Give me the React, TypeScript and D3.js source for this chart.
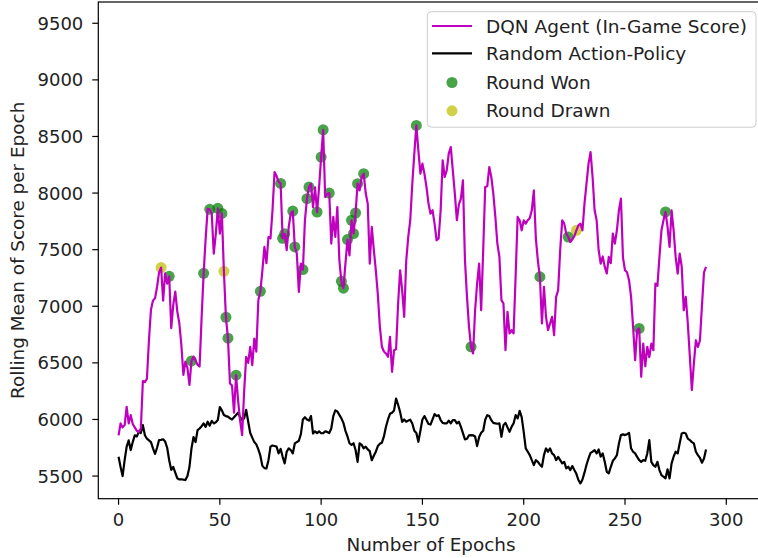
import React from "react";
import * as d3 from "d3";

// Rolling mean of the in-game score per epoch for the DQN agent (epochs 0..290)
const agentScore: number[] = [
  5860, 5965, 5930, 5950, 6112, 5965, 6038, 5960, 5930, 5900,
  5890, 5920, 6340, 6330, 6360, 6700, 6970, 7050, 7070, 7170,
  7300, 7342, 7050, 7290, 7200, 7265, 6806, 7012, 7130, 6953,
  6850, 6660, 6394, 6512, 6453, 6306, 6517, 6556, 6520, 6482,
  6468, 6900, 7291, 7600, 7862, 7856, 7818, 7465, 7640, 7865,
  7641, 7820, 7309, 6903, 6718, 6318, 6300, 6060, 6391, 6171,
  5990, 5862, 6250, 6554, 6500, 6642, 6480, 6715, 6600, 7054,
  7132, 7318, 7524, 7380, 7612, 7600, 7848, 8186, 8150, 8098,
  8085, 7600, 7640, 7495, 7700, 7818, 7841, 7524, 7465, 7127,
  7377, 7324, 7760, 7950, 8053, 8082, 7876, 8050, 7832, 8054,
  8318, 8559, 7965, 7990, 8000, 7554, 7789, 7612, 7877, 7407,
  7220, 7160, 7377, 7589, 7450, 7760, 7642, 7824, 8083, 8024,
  8142, 8171, 8000, 7907, 7377, 7701, 7500, 7318, 7100, 6818,
  6642, 6600, 6583, 6554, 6730, 6421, 6612, 6620, 7024, 7318,
  7142, 6907, 7400, 7612, 7760, 8083, 8348, 8598, 8377, 8171,
  8260, 8171, 8054, 7907, 7818, 7848, 7730, 7583, 7600, 7848,
  8289, 8142, 8200, 8348, 8406, 8201, 7995, 7760, 7900, 7950,
  8112, 7407, 7083, 6818, 6642, 6583, 6965, 7201, 7377, 6965,
  7495, 8054, 8060, 8230, 8142, 7995, 7789, 7554, 7436, 7054,
  7024, 6612, 6950, 6760, 6789, 6760, 7260, 7789, 7760, 7671,
  7760, 7730, 7760, 7780, 7848, 8024, 7600, 7400, 7260, 6848,
  7171, 6907, 6789, 6848, 6907, 6745, 7083, 7142, 7495, 7760,
  7730, 7642, 7612, 7568, 7590, 7620, 7671, 7715, 7730, 7671,
  7907, 8083, 8260, 8362, 8142, 7848, 7760, 7495, 7377, 7440,
  7350, 7289, 7436, 7380, 7642, 7554, 7671, 7848, 7951, 7430,
  7318, 7300, 7230, 7083, 6818, 6524, 6789, 6804, 6377, 6671,
  6470, 6642, 6550, 6670, 6612, 7201, 7180, 7436, 7671, 7760,
  7833, 7701, 7524, 7848, 7671, 7436, 7289, 7465, 7350, 6965,
  7083, 6850, 6560, 6260, 6495, 6700, 6640, 6700, 7010, 7300, 7348,
];

// Rolling mean of the score per epoch for the random action-policy baseline
const randomScore: number[] = [
  5670, 5580, 5500, 5640, 5760, 5815, 5730, 5800, 5860, 5850,
  5890, 5880, 5950, 5860, 5830, 5815, 5800, 5745, 5695, 5750,
  5818, 5820, 5825, 5805, 5750, 5640, 5555, 5580, 5530, 5480,
  5470, 5472, 5468, 5465, 5500, 5580, 5745, 5845, 5800, 5905,
  5920, 5940, 5965, 5935, 5980, 5945, 5988, 5965, 5975, 5995,
  6110, 6080, 6040, 6030, 6025, 6010, 6000, 6020, 6040, 6060,
  6020, 5995, 6010, 6085, 5980, 5880, 5840, 5800, 5780, 5735,
  5680, 5590, 5570, 5568, 5640, 5760, 5770, 5765, 5760, 5700,
  5740, 5670, 5612, 5715, 5745, 5730, 5700, 5788, 5800, 5812,
  5870, 6000, 6020, 6000, 5990, 6030, 5876, 5895, 5880, 5895,
  5878, 5880, 5895, 5890, 5880, 5920, 6030, 6080, 6070, 6040,
  6010, 5970, 5900, 5850, 5790, 5775, 5790, 5730, 5626, 5790,
  5775, 5745, 5760, 5735, 5720, 5640, 5680, 5715, 5765, 5785,
  5795, 5850, 5935, 6000, 6050, 6060, 6080, 6185, 6130, 6065,
  5979, 6000, 5980, 5990, 5998, 5965, 5900, 5880, 5803, 5900,
  6000, 6030, 5995, 5960, 5955, 6000, 6047, 6030, 6038, 5995,
  5970, 5965, 5965, 5990, 5965, 5994, 5994, 5965, 5980, 5935,
  5880, 5824, 5830, 5860, 5862, 5860, 5850, 5765, 5845, 5882,
  5900, 5998, 6038, 6030, 5994, 5970, 5965, 5962, 5965, 5847,
  5950, 5970, 5930, 5891, 5935, 5965, 6038, 6009, 6076, 6020,
  5891, 5744, 5715, 5685, 5641, 5597, 5640, 5626, 5600, 5582,
  5685, 5744, 5715, 5744, 5700, 5685, 5641, 5670, 5641, 5612,
  5625, 5568, 5582, 5553, 5588, 5553, 5520, 5465, 5435, 5470,
  5530, 5600, 5656, 5705, 5715, 5729, 5700, 5735, 5671, 5700,
  5626, 5538, 5524, 5582, 5635, 5656, 5685, 5788, 5862, 5868,
  5862, 5870, 5882, 5744, 5715, 5700, 5670, 5641, 5626, 5641,
  5635, 5700, 5818, 5626, 5597, 5582, 5626, 5553, 5509, 5494,
  5480, 5560, 5479, 5612, 5671, 5715, 5700, 5790, 5876, 5882,
  5876, 5830, 5818, 5800, 5788, 5715, 5685, 5660, 5618, 5655, 5735,
];

// Epochs at which the agent won or drew the round
const wonEpochs: number[] = [
  25, 36, 42, 45, 49, 51, 53, 54, 58, 70, 80, 81, 82, 86, 87, 91, 93, 94,
  98, 100, 101, 104, 110, 111, 113, 115, 116, 117, 118, 121, 147, 174, 208,
  222, 257, 270,
];
const drawnEpochs: number[] = [21, 52, 226];

const xTicks: number[] = [0, 50, 100, 150, 200, 250, 300];
const yTicks: number[] = [5500, 6000, 6500, 7000, 7500, 8000, 8500, 9000, 9500];

const legendLabels: string[] = [
  "DQN Agent (In-Game Score)",
  "Random Action-Policy",
  "Round Won",
  "Round Drawn",
];

const W = 758;
const H = 558;
const FONT = "DejaVu Sans, sans-serif";
const MAGENTA = "#bf00bf";
const GREEN = "#008000";
const YELLOW = "#bfbf00";

export default function App() {
  const plot = { left: 98.3, right: 766.8, top: 2, bottom: 498.7 };
  const x = d3.scaleLinear().domain([-10, 320]).range([plot.left, plot.right]);
  const y = d3.scaleLinear().domain([5300, 9688]).range([plot.bottom, plot.top]);

  const line = d3
    .line<number>()
    .x((_, i) => x(i))
    .y((d) => y(d));

  const legendX = 427.3;
  const legendY = 11.7;
  const legendW = 328.7;
  const legendH = 115.5;
  const rowY = [26, 53.3, 82.5, 110.8];

  return (
    <svg
      width={W}
      height={H}
      style={{ position: "absolute", left: 0, top: 0, background: "#fff" }}
      fontFamily={FONT}
    >
      <defs>
        <clipPath id="plot-area">
          <rect
            x={plot.left}
            y={plot.top}
            width={plot.right - plot.left}
            height={plot.bottom - plot.top}
          />
        </clipPath>
      </defs>
      <rect x={0} y={0} width={W} height={H} fill="#fff" />

      <g clipPath="url(#plot-area)">
        {/* round markers sit beneath the lines */}
        {wonEpochs.map((e) => (
          <circle
            key={`w${e}`}
            cx={x(e)}
            cy={y(agentScore[e])}
            r={5.5}
            fill={GREEN}
            fillOpacity={0.72}
          />
        ))}
        {drawnEpochs.map((e) => (
          <circle
            key={`d${e}`}
            cx={x(e)}
            cy={y(agentScore[e])}
            r={5.5}
            fill={YELLOW}
            fillOpacity={0.72}
          />
        ))}
        <path
          d={line(randomScore) ?? ""}
          fill="none"
          stroke="#000"
          strokeWidth={2.2}
          strokeLinejoin="round"
        />
        <path
          d={line(agentScore) ?? ""}
          fill="none"
          stroke={MAGENTA}
          strokeWidth={2.2}
          strokeLinejoin="round"
        />
      </g>

      {/* axes frame */}
      <rect
        x={plot.left}
        y={plot.top}
        width={plot.right - plot.left}
        height={plot.bottom - plot.top}
        fill="none"
        stroke="#000"
        strokeWidth={1.2}
      />

      {/* x ticks */}
      {xTicks.map((t) => (
        <g key={`xt${t}`}>
          <line
            x1={x(t)}
            x2={x(t)}
            y1={plot.bottom}
            y2={plot.bottom + 6}
            stroke="#000"
            strokeWidth={1.2}
          />
          <text
            x={x(t)}
            y={526}
            textAnchor="middle"
            fontSize={18}
            fill="#222"
          >
            {t}
          </text>
        </g>
      ))}

      {/* y ticks */}
      {yTicks.map((t) => (
        <g key={`yt${t}`}>
          <line
            x1={plot.left - 6}
            x2={plot.left}
            y1={y(t)}
            y2={y(t)}
            stroke="#000"
            strokeWidth={1.2}
          />
          <text
            x={plot.left - 15}
            y={y(t) + 6.5}
            textAnchor="end"
            fontSize={18}
            fill="#222"
          >
            {t}
          </text>
        </g>
      ))}

      {/* axis titles */}
      <text x={431} y={551} textAnchor="middle" fontSize={18.4} fill="#222">
        Number of Epochs
      </text>
      <text
        transform={`translate(24, ${(plot.top + plot.bottom) / 2}) rotate(-90)`}
        textAnchor="middle"
        fontSize={18.4}
        fill="#222"
      >
        Rolling Mean of Score per Epoch
      </text>

      {/* legend */}
      <g>
        <rect
          x={legendX}
          y={legendY}
          width={legendW}
          height={legendH}
          rx={4}
          fill="#fff"
          fillOpacity={0.8}
          stroke="#cccccc"
          strokeWidth={1}
        />
        <line x1={432} x2={472} y1={rowY[0]} y2={rowY[0]} stroke={MAGENTA} strokeWidth={2.2} />
        <line x1={432} x2={472} y1={rowY[1]} y2={rowY[1]} stroke="#000" strokeWidth={2.2} />
        <circle cx={452} cy={rowY[2]} r={5.5} fill={GREEN} fillOpacity={0.72} />
        <circle cx={452} cy={rowY[3]} r={5.5} fill={YELLOW} fillOpacity={0.72} />
        {legendLabels.map((lab, i) => (
          <text key={lab} x={486} y={rowY[i] + 6.5} fontSize={18.5} fill="#222">
            {lab}
          </text>
        ))}
      </g>
    </svg>
  );
}
